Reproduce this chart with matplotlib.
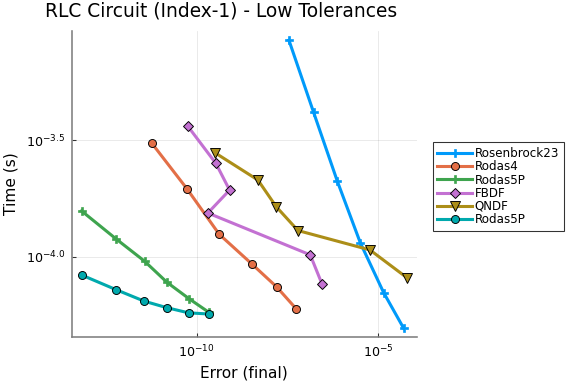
import matplotlib
matplotlib.use("Agg")
import matplotlib.pyplot as plt
from matplotlib.ticker import FixedLocator, FixedFormatter, NullLocator
import numpy as np

title = "RLC Circuit (Index-1) - Low Tolerances"
xlabel = "Error (final)"
ylabel = "Time (s)"

# log10 values
ros23_err = [-7.457, -6.777, -6.127, -5.493, -4.848, -4.298]
ros23_time = [-3.073, -3.382, -3.675, -3.939, -4.153, -4.305]

rodas4_err = [-11.240, -10.267, -9.377, -8.485, -7.796, -7.256]
rodas4_time = [-3.512, -3.708, -3.903, -4.029, -4.128, -4.222]

rodas5p_err = [-13.168, -12.215, -11.433, -10.818, -10.212, -9.669]
rodas5p_time = [-3.803, -3.923, -4.018, -4.108, -4.178, -4.236]

fbdf_err = [-10.240, -9.468, -9.091, -9.689, -6.871, -6.548]
fbdf_time = [-3.441, -3.600, -3.714, -3.812, -3.991, -4.115]

qndf_err = [-9.496, -8.311, -7.807, -7.209, -5.226, -4.215]
qndf_time = [-3.554, -3.671, -3.785, -3.887, -3.970, -4.088]

rodas5p2_err = [-13.168, -12.215, -11.444, -10.818, -10.220, -9.661]
rodas5p2_time = [-4.077, -4.140, -4.189, -4.217, -4.239, -4.244]

labels = ["Rosenbrock23", "Rodas4", "Rodas5P", "FBDF", "QNDF", "Rodas5P"]
colors = ["#009AFA", "#E36F47", "#3EA44E", "#C371D2", "#AC8E18", "#00A9AD"]
markers = ["P", "o", "P", "D", "v", "o"]
msizes = [6.5, 6, 6.5, 5, 7, 6]

xticks = [-10, -5]
xticklabels = [r"$10^{-10}$", r"$10^{-5}$"]
yticks = [-4.0, -3.5]
yticklabels = [r"$10^{-4.0}$", r"$10^{-3.5}$"]

series = [
    (ros23_err, ros23_time),
    (rodas4_err, rodas4_time),
    (rodas5p_err, rodas5p_time),
    (fbdf_err, fbdf_time),
    (qndf_err, qndf_time),
    (rodas5p2_err, rodas5p2_time),
]

fig = plt.figure(figsize=(6, 4), dpi=96)
ax = fig.add_axes([0.125, 0.1232, 0.5984, 0.7958])

for (e, t), lab, c, m, ms in zip(series, labels, colors, markers, msizes):
    x = 10.0 ** np.array(e)
    y = 10.0 ** np.array(t)
    if m == "P":
        ax.plot(x, y, color=c, lw=2.3, marker=m, ms=ms, mec=c, mew=0.5, label=lab)
    else:
        ax.plot(x, y, color=c, lw=2.3, marker=m, ms=ms, mec="black", mew=0.7, label=lab)

ax.set_xscale("log")
ax.set_yscale("log")
ax.set_xlim(10 ** -13.43, 10 ** -3.94)
ax.set_ylim(10 ** -4.341, 10 ** -3.034)

ax.xaxis.set_major_locator(FixedLocator([10.0 ** v for v in xticks]))
ax.xaxis.set_major_formatter(FixedFormatter(xticklabels))
ax.yaxis.set_major_locator(FixedLocator([10.0 ** v for v in yticks]))
ax.yaxis.set_major_formatter(FixedFormatter(yticklabels))
ax.xaxis.set_minor_locator(NullLocator())
ax.yaxis.set_minor_locator(NullLocator())

ax.tick_params(direction="in", length=3, width=0.8, color="#333333",
               labelsize=9.5, pad=5)
ax.grid(True, color="black", alpha=0.1, lw=0.6)
ax.set_axisbelow(True)
for s in ["top", "right"]:
    ax.spines[s].set_visible(False)
for s in ["left", "bottom"]:
    ax.spines[s].set_color("#7f7f7f")
    ax.spines[s].set_linewidth(1.2)

ax.set_xlabel(xlabel, fontsize=11.5, labelpad=4)
ax.set_ylabel(ylabel, fontsize=11.5, labelpad=6)
fig.text(221 / 576, 1 - 11 / 384, title, fontsize=14, ha="center", va="center")

leg = ax.legend(loc="upper left", bbox_to_anchor=(432.7 / 576, 1 - 142.3 / 384),
                bbox_transform=fig.transFigure, fontsize=8.9, frameon=True,
                fancybox=False, edgecolor="#333333", framealpha=1,
                labelspacing=0.02, handlelength=2.9, handletextpad=0.25,
                borderpad=0.4, borderaxespad=0)
leg.get_frame().set_linewidth(0.8)

fig.savefig("out.png", dpi=96)
